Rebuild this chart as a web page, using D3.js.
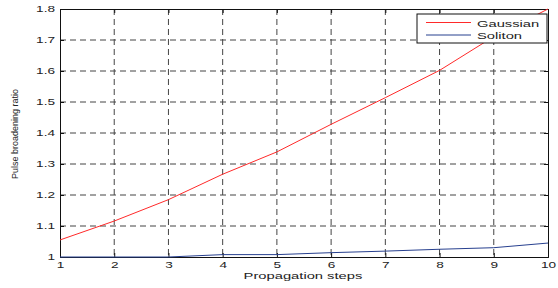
<!DOCTYPE html>
<html>
<head>
<meta charset="utf-8">
<script src="https://cdn.jsdelivr.net/npm/d3@7"></script>
<style>
  body { margin: 0; background: #fff; }
  text { font-family: "Liberation Sans", Arial, sans-serif; fill: #222; }
</style>
</head>
<body>
<div id="chart"></div>
<script>
// data
const steps = [1, 2, 3, 4, 5, 6, 7, 8, 9, 10];
const gaussian = [1.055, 1.116, 1.185, 1.267, 1.339, 1.428, 1.514, 1.602, 1.711, 1.80];
const soliton = [1.0, 1.0, 1.0, 1.0077, 1.0077, 1.014, 1.019, 1.025, 1.030, 1.045];
const yTicks = [1, 1.1, 1.2, 1.3, 1.4, 1.5, 1.6, 1.7, 1.8];
const seriesNames = ["Gaussian", "Soliton"];
const seriesColors = ["#ff2a2a", "#27408f"];

const W = 558, H = 288;
const margin = {top: 9, right: 10, bottom: 31, left: 60};
const width = W - margin.left - margin.right,
    height = H - margin.top - margin.bottom;

// the original figure was stretched sideways, so text glyphs are wide and short
const STRETCH = 1.55;
function stretch(sel, f) {
  sel.each(function() {
    const len = this.getComputedTextLength();
    d3.select(this).attr("textLength", len * f).attr("lengthAdjust", "spacingAndGlyphs");
  });
}

const svg = d3.select("#chart").append("svg")
  .attr("width", W).attr("height", H);
const g = svg.append("g")
  .attr("transform", `translate(${margin.left},${margin.top})`);

const x = d3.scaleLinear().domain([1, 10]).range([0, width]);
const y = d3.scaleLinear().domain([1, 1.8]).range([height, 0]);

// grid
g.append("g").selectAll("line").data(steps.slice(1, -1)).join("line")
  .attr("x1", d => x(d)).attr("x2", d => x(d))
  .attr("y1", 0).attr("y2", height)
  .attr("stroke", "#444").attr("stroke-dasharray", "6,4");
g.append("g").selectAll("line").data(yTicks.slice(1, -1)).join("line")
  .attr("y1", d => y(d)).attr("y2", d => y(d))
  .attr("x1", 0).attr("x2", width)
  .attr("stroke", "#444").attr("stroke-dasharray", "6,4");

// axes with inward ticks (MATLAB style)
const fmt = d => d === 1 ? "1" : d3.format(".1f")(d);
const xAxis = g.append("g").attr("transform", `translate(0,${height})`)
  .call(d3.axisBottom(x).tickValues(steps).tickSize(-4).tickPadding(5).tickFormat(d3.format("d")));
const yAxis = g.append("g")
  .call(d3.axisLeft(y).tickValues(yTicks).tickSize(-4).tickPadding(5).tickFormat(fmt));
g.append("g").call(d3.axisTop(x).tickValues(steps).tickSize(-4).tickFormat(""));
g.append("g").attr("transform", `translate(${width},0)`)
  .call(d3.axisRight(y).tickValues(yTicks).tickSize(-4).tickFormat(""));
g.selectAll(".domain").attr("stroke", "#111");
g.selectAll(".tick line").attr("stroke", "#111");
[xAxis, yAxis].forEach(a => a.selectAll("text")
  .style("font-size", "8.5px").style("font-family", "Liberation Sans, Arial, sans-serif")
  .attr("fill", "#222")
  .call(stretch, 1.6));

// lines
const line = d3.line().x((d, i) => x(steps[i])).y(d => y(d));
[gaussian, soliton].forEach((s, k) => {
  g.append("path").datum(s)
    .attr("fill", "none")
    .attr("stroke", seriesColors[k])
    .attr("stroke-width", 1)
    .attr("d", line);
});

// axis labels
svg.append("text")
  .attr("x", 303).attr("y", 279)
  .attr("text-anchor", "middle")
  .style("font-size", "9.5px")
  .text("Propagation steps")
  .call(stretch, STRETCH);
svg.append("text")
  .attr("transform", `translate(18,${margin.top + height / 2 + 1}) rotate(-90)`)
  .attr("text-anchor", "middle")
  .attr("textLength", 90).attr("lengthAdjust", "spacingAndGlyphs")
  .style("font-size", "9px")
  .text("Pulse broadening ratio");

// legend
const lg = g.append("g").attr("transform", `translate(${x(10) - 131},5)`);
lg.append("rect").attr("width", 130).attr("height", 29)
  .attr("fill", "#fff").attr("stroke", "#111");
seriesNames.forEach((n, i) => {
  lg.append("line").attr("x1", 9).attr("x2", 54)
    .attr("y1", 8.5 + i * 12.5).attr("y2", 8.5 + i * 12.5)
    .attr("stroke", seriesColors[i]);
  lg.append("text").attr("x", 60).attr("y", 12.5 + i * 12.5)
    .style("font-size", "9.5px").text(n)
    .call(stretch, STRETCH);
});
</script>
</body>
</html>
